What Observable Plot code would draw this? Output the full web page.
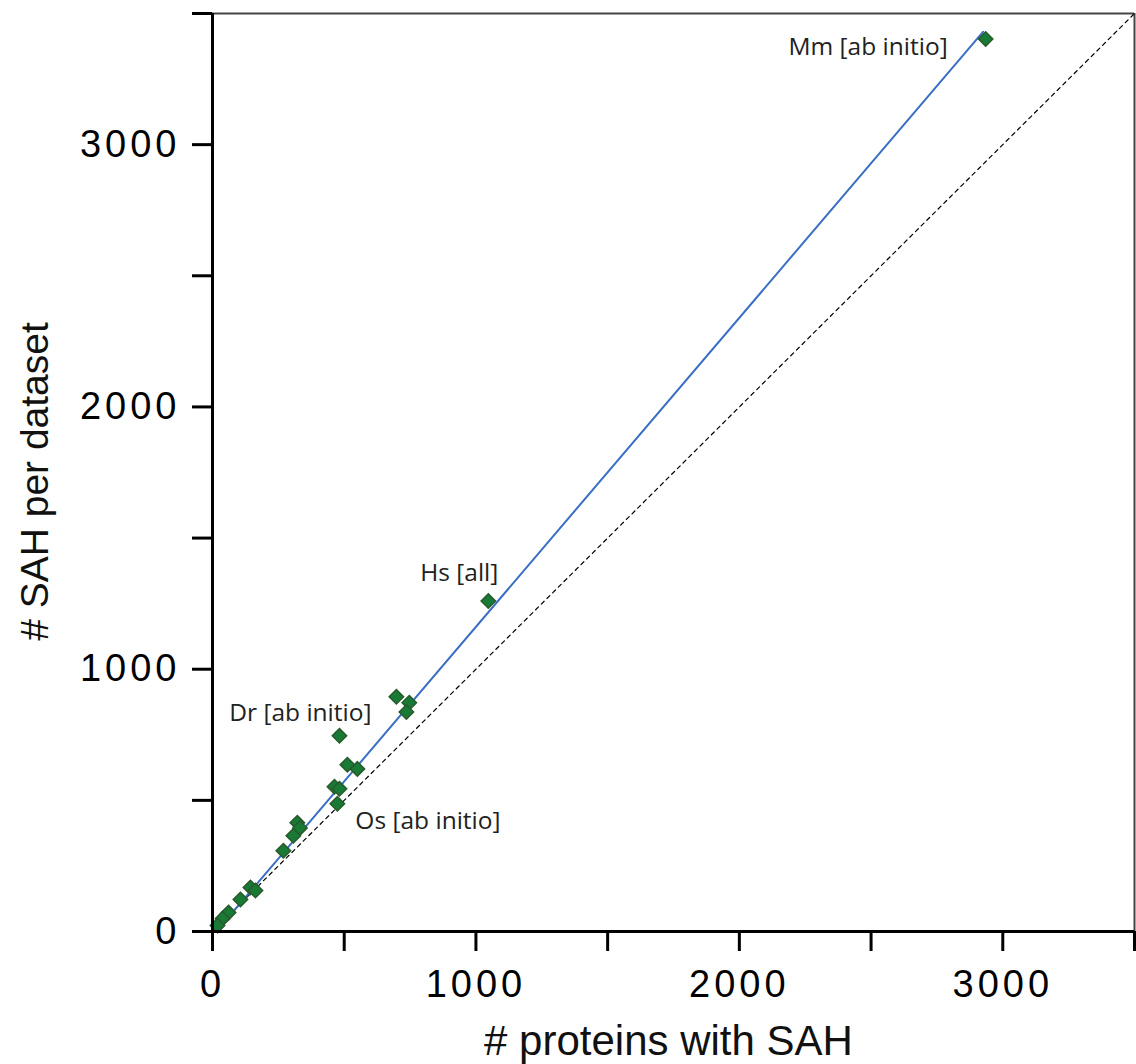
<!DOCTYPE html>
<html>
<head>
<meta charset="utf-8">
<script src="https://cdn.jsdelivr.net/npm/d3@7"></script>
<script src="https://cdn.jsdelivr.net/npm/@observablehq/plot@0.6"></script>
<style>
  html, body { margin: 0; padding: 0; background: #fff; }
  #chart svg { display: block; }
  #chart g[aria-label="x-axis tick label"] text,
  #chart g[aria-label="y-axis tick label"] text { letter-spacing: 4px; }
</style>
</head>
<body>
<div id="chart"></div>
<script>
// Data
const proteins = [2935, 1047, 698, 747, 736, 482, 512, 550, 463, 482, 474, 322, 332, 307, 269, 144, 163, 106, 61, 38, 19];
const sahCount = [3403, 1260, 895, 872, 837, 746, 636, 620, 552, 544, 487, 415, 395, 365, 308, 168, 156, 122, 72, 49, 23];

const labelNames = ["Mm [ab initio]", "Hs [all]", "Dr [ab initio]", "Os [ab initio]"];
const labelX = [2935, 1047, 482, 474];
const labelY = [3403, 1260, 746, 487];

// linear fit endpoints
const fitX = [27, 2925];
const fitY = [15, 3430];

const axisTicks = [0, 500, 1000, 1500, 2000, 2500, 3000, 3500];
const axisMax = 3500;

const points = proteins.map((p, i) => ({x: p, y: sahCount[i]}));
const labels = labelNames.map((n, i) => ({name: n, x: labelX[i], y: labelY[i]}));
const fit = fitX.map((x, i) => ({x, y: fitY[i]}));

const fmt = d => (d % 1000 === 0 ? String(d) : "");
const lblFont = "'Open Sans', sans-serif";
const lblSize = 24.5;

const chart = Plot.plot({
  width: 1136,
  height: 1064,
  marginLeft: 212,
  marginRight: 2,
  marginTop: 13,
  marginBottom: 133,
  style: {fontFamily: "'Liberation Sans', Arial, sans-serif", background: "#fff", overflow: "visible"},
  x: {domain: [0, axisMax]},
  y: {domain: [0, axisMax]},
  marks: [
    // frame top/right
    Plot.ruleY([axisMax], {stroke: "#444", strokeWidth: 2}),
    Plot.ruleX([axisMax], {stroke: "#444", strokeWidth: 2}),
    // identity line
    Plot.line([{x: 0, y: 0}, {x: axisMax, y: axisMax}], {x: "x", y: "y", stroke: "#000", strokeWidth: 1.2, strokeDasharray: "4,4"}),
    // fit line
    Plot.line(fit, {x: "x", y: "y", stroke: "#3a6fc4", strokeWidth: 2}),
    // points
    Plot.dot(points, {x: "x", y: "y", symbol: "diamond2", r: 6.5, fill: "#177a35", stroke: "#2a5a2c", strokeWidth: 1.5}),
    // labels
    Plot.text(labels.slice(0, 1), {x: "x", y: "y", text: "name", textAnchor: "end", dx: -38, dy: 8, fontSize: lblSize, fill: "#222", fontFamily: lblFont}),
    Plot.text(labels.slice(1, 2), {x: "x", y: "y", text: "name", textAnchor: "end", dx: 10, dy: -28, fontSize: lblSize, fill: "#222", fontFamily: lblFont}),
    Plot.text(labels.slice(2, 3), {x: "x", y: "y", text: "name", textAnchor: "end", dx: 32, dy: -23, fontSize: lblSize, fill: "#222", fontFamily: lblFont}),
    Plot.text(labels.slice(3, 4), {x: "x", y: "y", text: "name", textAnchor: "start", dx: 18, dy: 17, fontSize: lblSize, fill: "#222", fontFamily: lblFont}),
    // axes
    Plot.axisX({ticks: axisTicks, tickFormat: fmt, tickSize: 20, tickPadding: 19, fontSize: 38, strokeWidth: 3, stroke: "#000", color: "#000", label: null}),
    Plot.axisY({ticks: axisTicks, tickFormat: fmt, tickSize: 20, tickPadding: 12, fontSize: 38, strokeWidth: 3, stroke: "#000", color: "#000", label: null}),
    Plot.ruleX([0], {stroke: "#000", strokeWidth: 3}),
    Plot.ruleY([0], {stroke: "#000", strokeWidth: 3}),
    // axis titles
    Plot.text(["# proteins with SAH"], {frameAnchor: "bottom", textAnchor: "middle", lineAnchor: "middle", dx: -5, dy: 110, fontSize: 42, fill: "#111"}),
    Plot.text(["# SAH per dataset"], {frameAnchor: "left", textAnchor: "middle", lineAnchor: "middle", dx: -177, dy: 9, rotate: -90, fontSize: 39, fill: "#111"})
  ]
});
document.getElementById("chart").appendChild(chart);
</script>
</body>
</html>
